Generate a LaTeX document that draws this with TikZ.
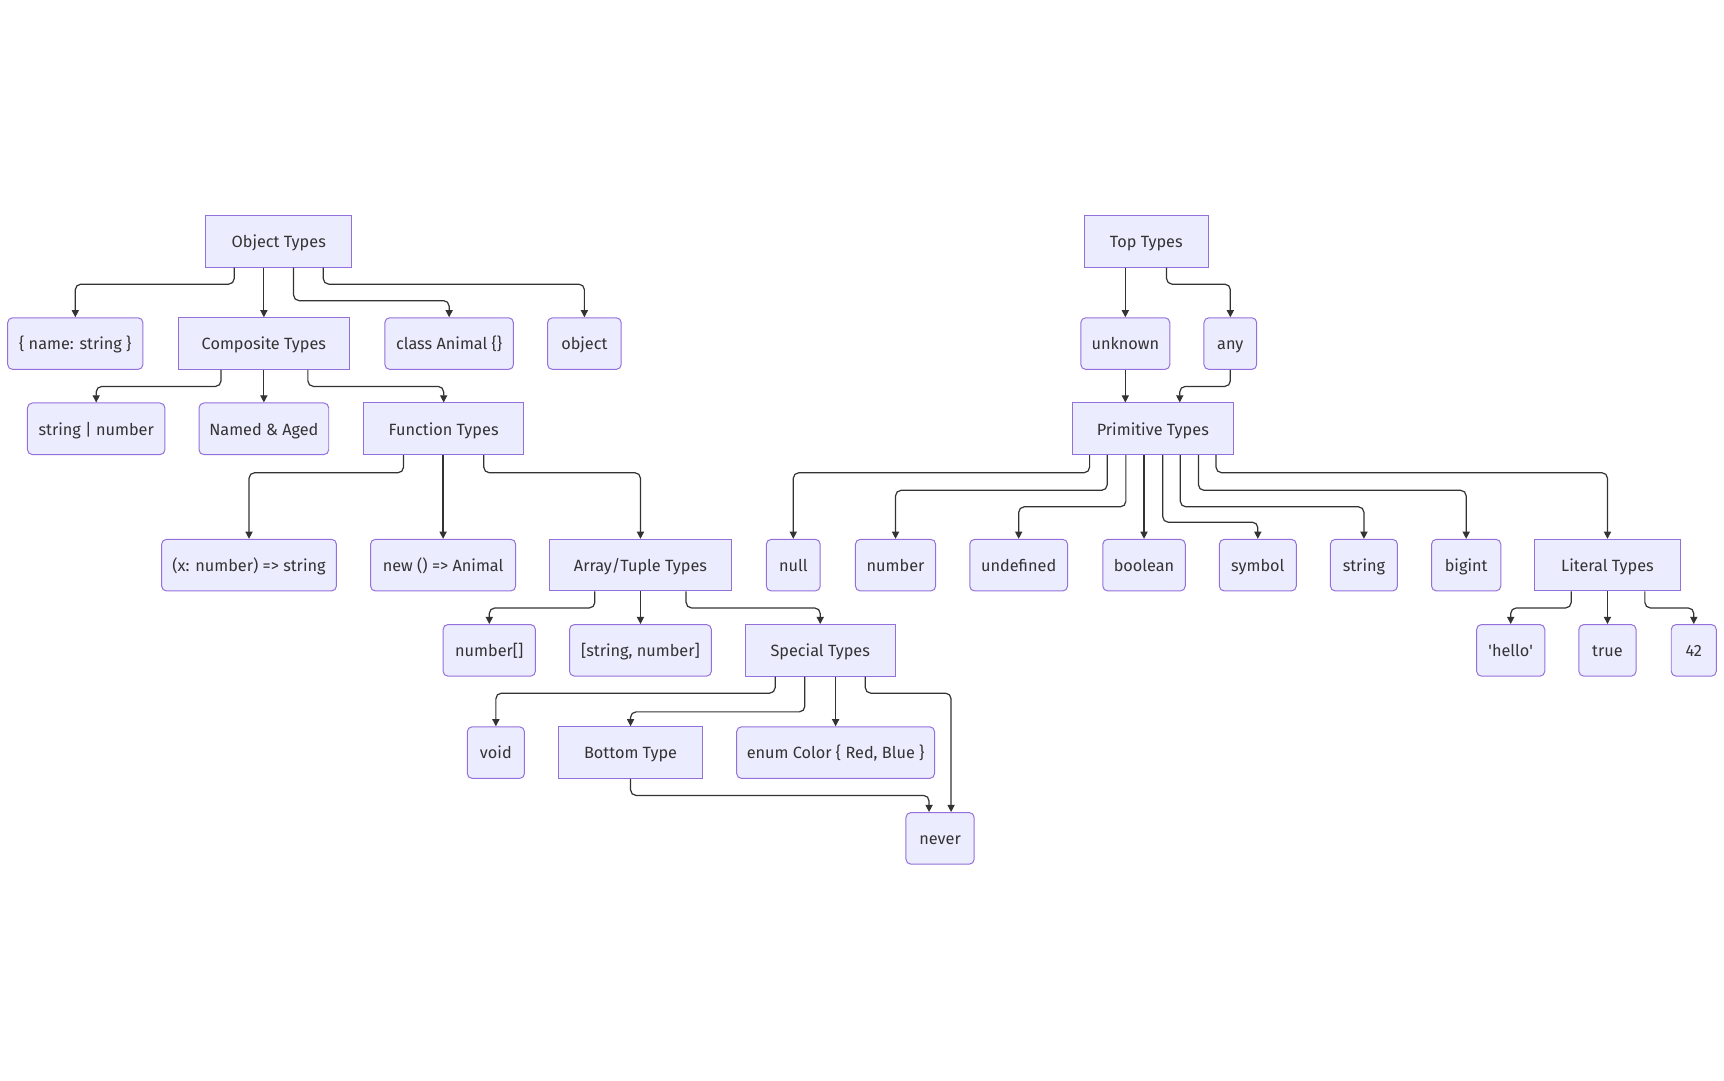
\documentclass[tikz,border=0pt]{standalone}
\usepackage{fontspec}
\setmainfont{Fira Sans}
\usetikzlibrary{arrows.meta}
\definecolor{boxfill}{HTML}{ECECFF}
\definecolor{boxline}{HTML}{9370DB}
\definecolor{ink}{HTML}{333333}
\def\elbow(#1:#2:#3)(#4:#5){\draw[link] ([xshift=#2]#1.south) -- ++(0,#3) -| ([xshift=#5]#4.north);}

\begin{document}
\begin{tikzpicture}[x=1pt, y=-1pt,
	grp/.style={draw=boxline, fill=boxfill, line width=0.9pt, minimum height=47pt, inner sep=0pt, text height=11.5pt, text depth=0pt, text=ink, font=\fontsize{14.8}{17}\selectfont},
	leaf/.style={grp, rounded corners=4.5pt},
	link/.style={draw=ink, line width=1.1pt, rounded corners=5pt, -{Triangle[length=6.5pt,width=6.5pt]}}]
	%%%%% START %%%%%
	\useasboundingbox (0,0) rectangle (1568,982.3);
	
	% object side
	\node[grp, minimum width=133] (objtypes) at (253.5,219.5) {Object Types};
	\node[leaf, minimum width=123] (record) at (68.5,312.5) {\{ name: string \}};
	\node[grp, minimum width=156] (comp) at (240,312.5) {Composite Types};
	\node[leaf, minimum width=117] (cls) at (408.5,312.5) {class Animal \{\}};
	\node[leaf, minimum width=67] (objkw) at (531.5,312.5) {object};
	
	\node[leaf, minimum width=125] (union) at (87.5,390) {string | number};
	\node[leaf, minimum width=118] (inter) at (240,390) {Named \& Aged};
	\node[grp, minimum width=145] (func) at (403.5,390) {Function Types};
	
	\node[leaf, minimum width=159] (fnsig) at (226.5,514) {(x: number) => string};
	\node[leaf, minimum width=132] (ctor) at (403,514) {new () => Animal};
	\node[grp, minimum width=165] (arr) at (582.5,514) {Array/Tuple Types};
	
	\node[leaf, minimum width=84] (arrnum) at (445,591.5) {number[]};
	\node[leaf, minimum width=129] (tuple) at (582.5,591.5) {[string, number]};
	\node[grp, minimum width=136] (special) at (746,591.5) {Special Types};
	
	\node[leaf, minimum width=52] (void) at (451,684.5) {void};
	\node[grp, minimum width=131] (bottom) at (573.5,684.5) {Bottom Type};
	\node[leaf, minimum width=180] (enumc) at (760,684.5) {enum Color \{ Red, Blue \}};
	\node[leaf, minimum width=62] (never) at (855,762.5) {never};
	
	% top side
	\node[grp, minimum width=113] (top) at (1042.5,219.5) {Top Types};
	\node[leaf, minimum width=81] (unknown) at (1023.5,312.5) {unknown};
	\node[leaf, minimum width=48] (any) at (1119,312.5) {any};
	\node[grp, minimum width=147] (prim) at (1048.5,390) {Primitive Types};
	
	\node[leaf, minimum width=49] (null) at (721.5,514) {null};
	\node[leaf, minimum width=73] (num) at (814.5,514) {number};
	\node[leaf, minimum width=89] (undef) at (926.5,514) {undefined};
	\node[leaf, minimum width=75] (bool) at (1040.5,514) {boolean};
	\node[leaf, minimum width=70] (sym) at (1144,514) {symbol};
	\node[leaf, minimum width=61] (str) at (1240.5,514) {string};
	\node[leaf, minimum width=63] (bigint) at (1333.5,514) {bigint};
	\node[grp, minimum width=132] (lit) at (1462,514) {Literal Types};
	
	\node[leaf, minimum width=62] (hello) at (1374,591.5) {\textquotesingle hello\textquotesingle};
	\node[leaf, minimum width=52] (true) at (1462,591.5) {true};
	\node[leaf, minimum width=41] (answer) at (1540.5,591.5) {42};
	
	% connectors
	\elbow(objtypes:-40.5:15)(record:0)
	\draw[link] (objtypes.south -| comp.north) -- (comp.north);
	\elbow(objtypes:13.5:30)(cls:0)
	\elbow(objtypes:40.5:15)(objkw:0)
	
	\elbow(comp:-39:15)(union:0)
	\draw[link] (comp.south) -- (inter.north);
	\elbow(comp:40:15)(func:0)
	
	\elbow(func:-36.5:16)(fnsig:0)
	\draw[link] (func.south -| ctor.north) -- (ctor.north);
	\elbow(func:36.5:16)(arr:0)
	
	\elbow(arr:-41.5:15)(arrnum:0)
	\draw[link] (arr.south) -- (tuple.north);
	\elbow(arr:41.5:15)(special:0)
	
	\elbow(special:-41:15)(void:0)
	\elbow(special:-14:32)(bottom:0)
	\draw[link] (special.south -| enumc.north) -- (enumc.north);
	\elbow(special:41:15)(never:10)
	\elbow(bottom:0:15)(never:-10)
	
	\draw[link] (top.south -| unknown.north) -- (unknown.north);
	\elbow(top:18.5:15)(any:0)
	\draw[link] (unknown.south) -- (unknown.south |- prim.north);
	\elbow(any:0:15)(prim:24.5)
	
	\elbow(prim:-57.5:16)(null:0)
	\elbow(prim:-41.5:32)(num:0)
	\elbow(prim:-24.5:47)(undef:0)
	\draw[link] (prim.south -| bool.north) -- (bool.north);
	\elbow(prim:9:61)(sym:0)
	\elbow(prim:25:47)(str:0)
	\elbow(prim:41.5:32)(bigint:0)
	\elbow(prim:57.5:16)(lit:0)
	
	\elbow(lit:-33:15)(hello:0)
	\draw[link] (lit.south) -- (true.north);
	\elbow(lit:34:15)(answer:0)
	%%%%% END %%%%%
\end{tikzpicture}
\end{document}
